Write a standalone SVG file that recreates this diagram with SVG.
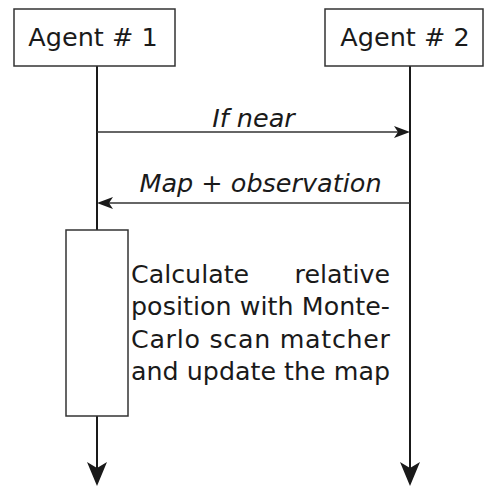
<svg xmlns="http://www.w3.org/2000/svg" width="484" height="486" viewBox="0 0 484 486">
<style>
.box{fill:#fff;stroke:#333;stroke-width:1.5}
.life{stroke:#1a1a1a;stroke-width:2;fill:none}
.msg{stroke:#333;stroke-width:1.5;fill:none}
.t{font-family:"DejaVu Sans",sans-serif;fill:#1a1a1a}
.lbl{font-family:"DejaVu Sans",sans-serif;font-style:italic;fill:#1a1a1a;font-size:25.5px}
.head{fill:#1a1a1a}
</style>
<rect width="484" height="486" fill="#fff"/>
<g id="connectors">
<line class="life" x1="97" y1="66" x2="97" y2="470"/>
<line class="life" x1="410" y1="66" x2="410" y2="470"/>
<path class="head" d="M87,462 L97,486 L107,462 L97,468 Z"/>
<path class="head" d="M400,462 L410,486 L420,462 L410,468 Z"/>
<line class="msg" x1="97" y1="132" x2="400" y2="132"/>
<path class="head" d="M410,132 L394,126 L398,132 L394,138 Z"/>
<text class="lbl" x="253.5" y="127" text-anchor="middle">If near</text>
<line class="msg" x1="107" y1="203" x2="410" y2="203"/>
<path class="head" d="M97,203 L113,197 L109,203 L113,209 Z"/>
<text class="lbl" x="260.5" y="192" text-anchor="middle">Map + observation</text>
</g>
<g id="agent1">
<rect class="box" x="14" y="9" width="161" height="57"/>
<text class="t" x="93" y="46" font-size="25.5" text-anchor="middle">Agent # 1</text>
</g>
<g id="agent2">
<rect class="box" x="325" y="9" width="158" height="57"/>
<text class="t" x="405" y="46" font-size="25.5" text-anchor="middle">Agent # 2</text>
</g>
<g id="activation">
<rect class="box" x="66" y="230" width="62" height="186"/>
</g>
<g id="note" class="t" font-size="25.3">
<text x="131" y="283">Calculate</text>
<text x="390" y="283" text-anchor="end">relative</text>
<text x="131" y="315" textLength="259" lengthAdjust="spacing">position with Monte-</text>
<text x="131" y="348" textLength="259" lengthAdjust="spacing">Carlo scan  matcher</text>
<text x="131" y="380" textLength="259" lengthAdjust="spacing">and update the map</text>
</g>
</svg>
